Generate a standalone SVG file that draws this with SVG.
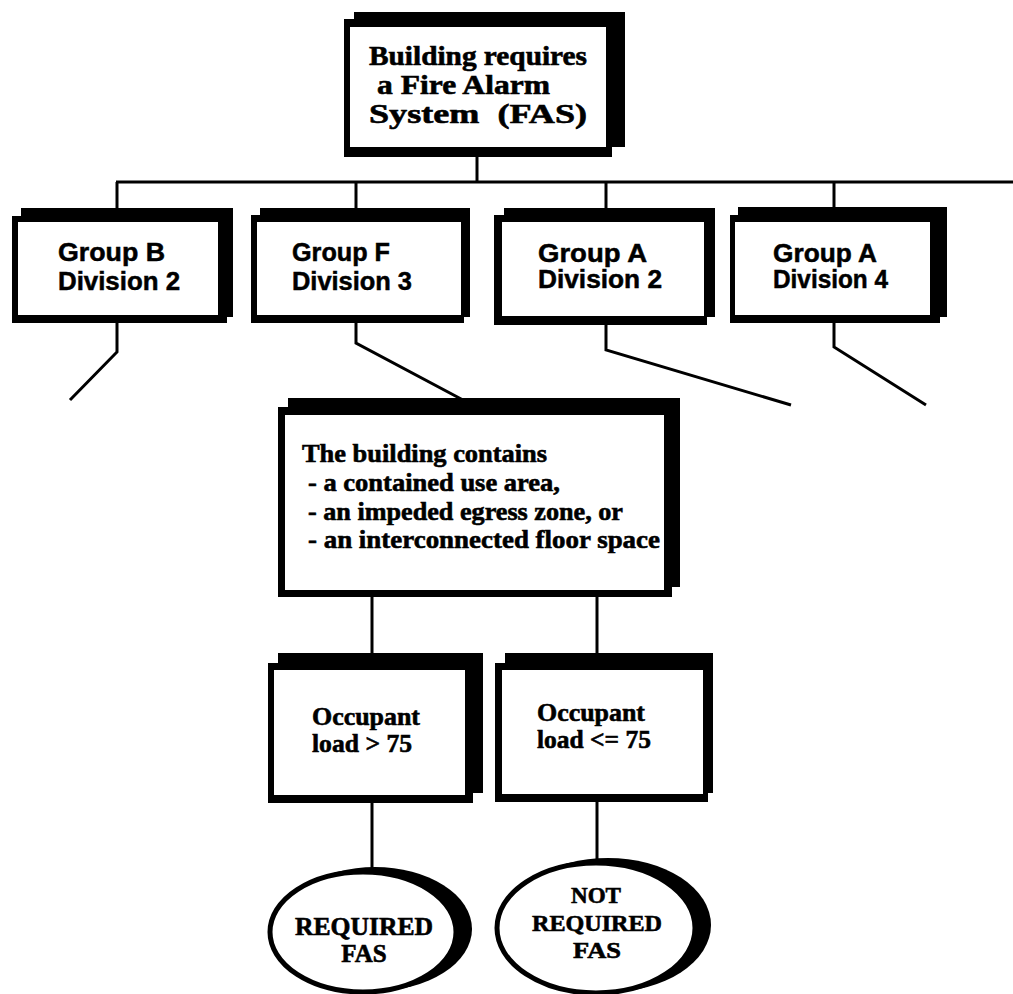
<svg xmlns="http://www.w3.org/2000/svg" width="1013" height="994" viewBox="0 0 1013 994">
  <style>
    .shadow { fill: #000; }
    .frame { fill: #000; }
    .face { fill: #fff; }
    .wire { fill: none; stroke: #000; stroke-width: 3; stroke-linejoin: miter; }
    .oval { fill: #fff; stroke: #000; stroke-width: 5; }
    .serif { font-family: "Liberation Serif", "Times New Roman", serif; font-weight: bold; fill: #000; stroke: #000; stroke-width: 0.6; white-space: pre; }
    .sans { font-family: "Liberation Sans", Arial, sans-serif; font-weight: bold; fill: #000; stroke: #000; stroke-width: 0.5; }
  </style>
  <rect width="1013" height="994" fill="#fff"/>

  <!-- connectors -->
  <g id="connectors">
    <path class="wire" d="M477,155 V182"/>
    <path class="wire" d="M116,182 H1013"/>
    <path class="wire" d="M117,182 V212"/>
    <path class="wire" d="M356,182 V212"/>
    <path class="wire" d="M606,182 V212"/>
    <path class="wire" d="M834,182 V212"/>
    <path class="wire" d="M117,320 V352 L70,400"/>
    <path class="wire" d="M356,320 V343 L463,400"/>
    <path class="wire" d="M606,322 V350 L791,405"/>
    <path class="wire" d="M834,320 V347 L926,405"/>
    <path class="wire" d="M372,595 V658"/>
    <path class="wire" d="M597,595 V658"/>
    <path class="wire" d="M372,800 V872"/>
    <path class="wire" d="M597,800 V864"/>
  </g>

  <!-- root: building requires FAS -->
  <g id="root">
    <rect class="shadow" x="354" y="12" width="271" height="135"/>
    <rect class="frame" x="344" y="19" width="268" height="138"/>
    <rect class="face" x="350" y="27" width="256" height="120"/>
    <text class="serif" font-size="28" x="369" y="65" textLength="218" lengthAdjust="spacingAndGlyphs">Building requires</text>
    <text class="serif" font-size="28" x="377" y="94" textLength="173" lengthAdjust="spacingAndGlyphs">a Fire Alarm</text>
    <text class="serif" font-size="28" x="369" y="123" textLength="218" lengthAdjust="spacingAndGlyphs">System  (FAS)</text>
  </g>

  <!-- occupancy groups -->
  <g id="group-b-div-2">
    <rect class="shadow" x="21" y="208" width="212" height="109"/>
    <rect class="frame" x="12" y="216" width="215" height="107"/>
    <rect class="face" x="18" y="222" width="200" height="93"/>
    <text class="sans" font-size="25" x="58" y="261" textLength="107" lengthAdjust="spacingAndGlyphs">Group B</text>
    <text class="sans" font-size="25" x="58" y="290" textLength="122" lengthAdjust="spacingAndGlyphs">Division 2</text>
  </g>

  <g id="group-f-div-3">
    <rect class="shadow" x="260" y="208" width="210" height="109"/>
    <rect class="frame" x="251" y="215" width="213" height="108"/>
    <rect class="face" x="257" y="222" width="204" height="93"/>
    <text class="sans" font-size="25" x="292" y="261" textLength="98" lengthAdjust="spacingAndGlyphs">Group F</text>
    <text class="sans" font-size="25" x="292" y="290" textLength="120" lengthAdjust="spacingAndGlyphs">Division 3</text>
  </g>

  <g id="group-a-div-2">
    <rect class="shadow" x="504" y="208" width="211" height="109"/>
    <rect class="frame" x="494" y="215" width="213" height="110"/>
    <rect class="face" x="502" y="222" width="202" height="94"/>
    <text class="sans" font-size="25" x="538" y="262" textLength="109" lengthAdjust="spacingAndGlyphs">Group A</text>
    <text class="sans" font-size="25" x="538" y="288" textLength="124" lengthAdjust="spacingAndGlyphs">Division 2</text>
  </g>

  <g id="group-a-div-4">
    <rect class="shadow" x="738" y="207" width="209" height="110"/>
    <rect class="frame" x="730" y="215" width="210" height="108"/>
    <rect class="face" x="735" y="222" width="195" height="93"/>
    <text class="sans" font-size="25" x="773" y="262" textLength="104" lengthAdjust="spacingAndGlyphs">Group A</text>
    <text class="sans" font-size="25" x="773" y="288" textLength="115" lengthAdjust="spacingAndGlyphs">Division 4</text>
  </g>

  <!-- special building features -->
  <g id="building-contains">
    <rect class="shadow" x="288" y="398" width="392" height="189"/>
    <rect class="frame" x="278" y="407" width="394" height="190"/>
    <rect class="face" x="285" y="415" width="379" height="175"/>
    <text class="serif" font-size="26" x="302" y="462" textLength="245" lengthAdjust="spacingAndGlyphs">The building contains</text>
    <text class="serif" font-size="26" x="308" y="491" textLength="252" lengthAdjust="spacingAndGlyphs">- a contained use area,</text>
    <text class="serif" font-size="26" x="308" y="520" textLength="315" lengthAdjust="spacingAndGlyphs">- an impeded egress zone, or</text>
    <text class="serif" font-size="26" x="308" y="548" textLength="352" lengthAdjust="spacingAndGlyphs">- an interconnected floor space</text>
  </g>

  <!-- occupant load tests -->
  <g id="load-over-75">
    <rect class="shadow" x="278" y="653" width="205" height="140"/>
    <rect class="frame" x="268" y="663" width="205" height="140"/>
    <rect class="face" x="274" y="670" width="191" height="125"/>
    <text class="serif" font-size="26" x="312" y="725" textLength="108" lengthAdjust="spacingAndGlyphs">Occupant</text>
    <text class="serif" font-size="26" x="312" y="752" textLength="100" lengthAdjust="spacingAndGlyphs">load &gt; 75</text>
  </g>

  <g id="load-75-or-less">
    <rect class="shadow" x="505" y="653" width="208" height="140"/>
    <rect class="frame" x="495" y="663" width="213" height="139"/>
    <rect class="face" x="502" y="670" width="201" height="124"/>
    <text class="serif" font-size="26" x="537" y="721" textLength="108" lengthAdjust="spacingAndGlyphs">Occupant</text>
    <text class="serif" font-size="26" x="537" y="748" textLength="114" lengthAdjust="spacingAndGlyphs">load &lt;= 75</text>
  </g>

  <!-- outcomes -->
  <g id="required-fas">
    <ellipse class="shadow" cx="375" cy="929" rx="97" ry="62"/>
    <ellipse class="oval" cx="363" cy="932" rx="93" ry="60"/>
    <text class="serif" font-size="25" x="364" y="935" text-anchor="middle" textLength="138" lengthAdjust="spacingAndGlyphs">REQUIRED</text>
    <text class="serif" font-size="25" x="364" y="962" text-anchor="middle">FAS</text>
  </g>

  <g id="not-required-fas">
    <ellipse class="shadow" cx="608" cy="925" rx="103" ry="67"/>
    <ellipse class="oval" cx="596" cy="928" rx="99" ry="65"/>
    <text class="serif" font-size="23" x="596" y="903" text-anchor="middle" textLength="50" lengthAdjust="spacingAndGlyphs">NOT</text>
    <text class="serif" font-size="23" x="597" y="931" text-anchor="middle" textLength="130" lengthAdjust="spacingAndGlyphs">REQUIRED</text>
    <text class="serif" font-size="23" x="597" y="958" text-anchor="middle" textLength="48" lengthAdjust="spacingAndGlyphs">FAS</text>
  </g>
</svg>
